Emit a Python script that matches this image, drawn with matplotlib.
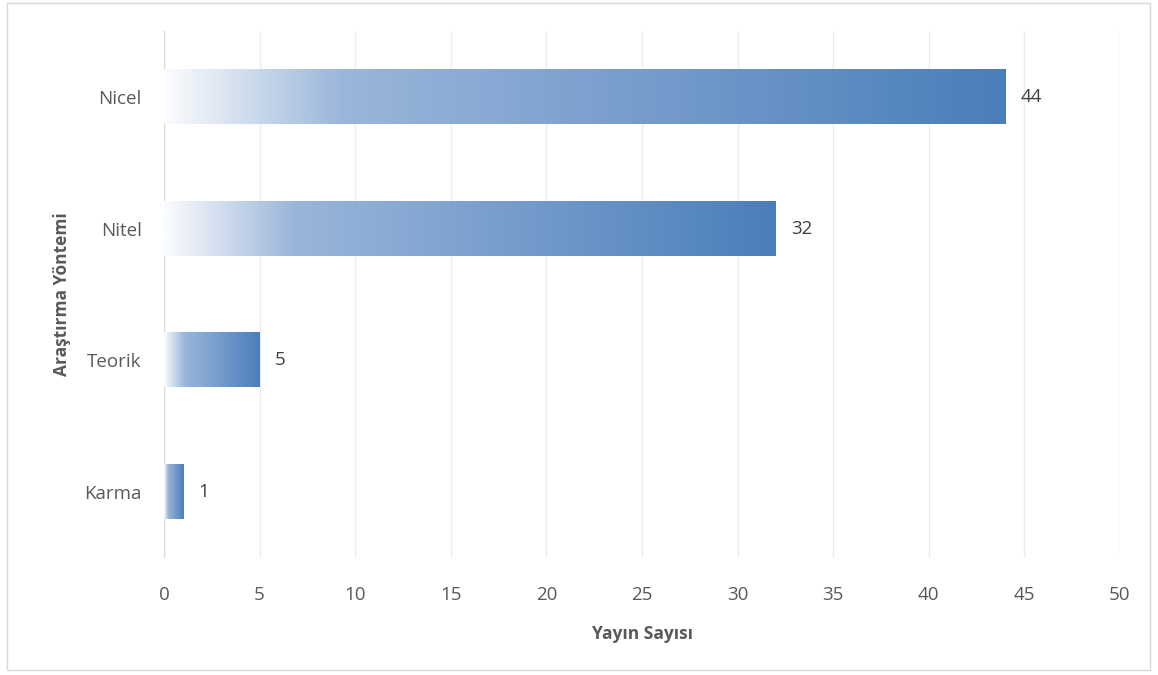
import matplotlib.pyplot as plt
import numpy as np
from matplotlib.colors import LinearSegmentedColormap
from matplotlib.patches import Rectangle

categories = ['Karma', 'Teorik', 'Nitel', 'Nicel']
values = [1, 5, 32, 44]
x_ticks = [0, 5, 10, 15, 20, 25, 30, 35, 40, 45, 50]

plt.rcParams['font.family'] = ['Open Sans', 'DejaVu Sans']
text_color = '#595959'

fig = plt.figure(figsize=(11.58, 6.75), dpi=100)
ax = fig.add_axes([164 / 1158, 1 - 558 / 675, (1120 - 164) / 1158, (558 - 31) / 675])

# gradient white -> light blue -> blue, as in the original
cmap = LinearSegmentedColormap.from_list(
    'grad', [(0.0, '#fbfcfe'), (0.21, '#9ab6da'), (1.0, '#4a7ebb')])
grad = np.linspace(0, 1, 256).reshape(1, -1)

bar_h = 0.41
for i, v in enumerate(values):
    ax.imshow(grad, cmap=cmap, aspect='auto', interpolation='bilinear',
              extent=(0, v, i - bar_h / 2, i + bar_h / 2), zorder=2)
    ax.text(v + 0.8, i, str(v), va='center', ha='left', fontsize=13.5, color='#404040')

ax.set_xlim(0, 50)
ax.set_ylim(-0.5, len(categories) - 0.5)
ax.set_xticks(x_ticks)
ax.set_yticks(range(len(categories)))
ax.set_yticklabels(categories)
ax.tick_params(axis='both', length=0, labelsize=13.5, colors=text_color)
ax.tick_params(axis='x', pad=20)
ax.tick_params(axis='y', pad=16)
ax.grid(axis='x', color='#ececec', linewidth=1, zorder=0)
ax.set_axisbelow(True)
for s in ax.spines.values():
    s.set_visible(False)
ax.axvline(0, color='#dadada', linewidth=1, zorder=1)

ax.set_xlabel('Yayın Sayısı', fontsize=12.5, fontweight='bold', color=text_color, labelpad=15)
ax.set_ylabel('Araştırma Yöntemi', fontsize=12.5, fontweight='bold', color=text_color, labelpad=10)

fig.patches.append(Rectangle((7 / 1158, 1 - 670 / 675), 1143 / 1158, 667 / 675,
                             transform=fig.transFigure, fill=False,
                             edgecolor='#d9d9d9', linewidth=1))

plt.savefig('out.png', dpi=100)
plt.close()
